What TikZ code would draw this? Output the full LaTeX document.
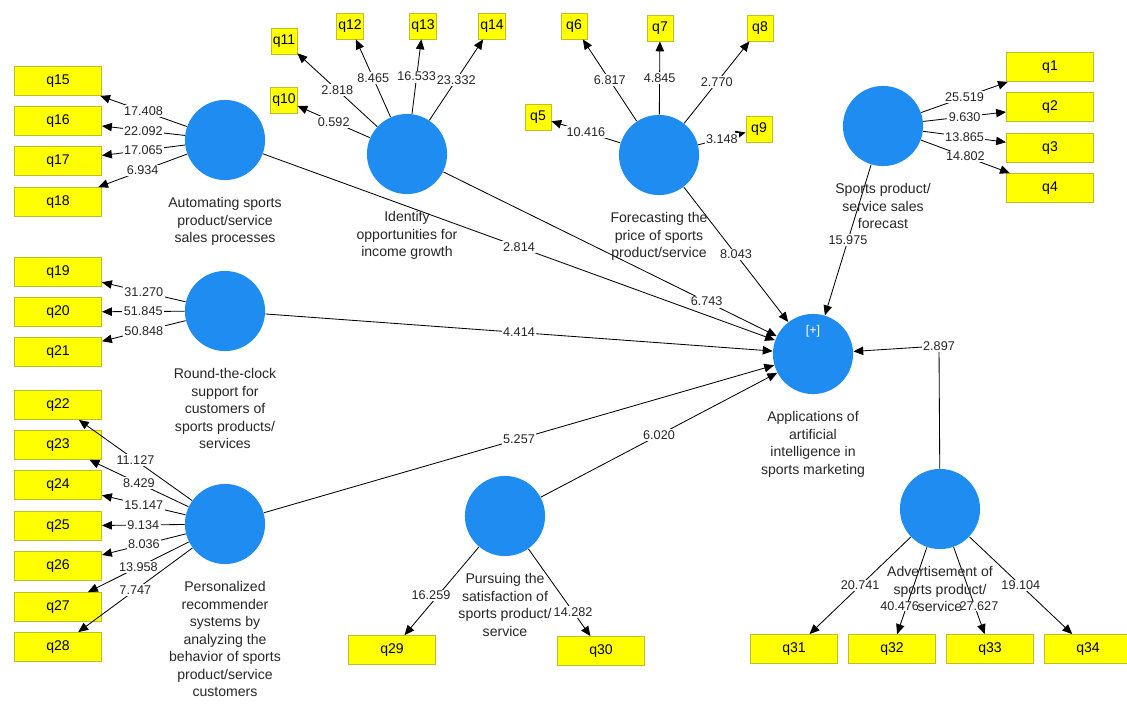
\documentclass[tikz,border=0pt]{standalone}
\usepackage{fontspec}
\setmainfont{Liberation Sans}
\usetikzlibrary{positioning,arrows.meta}
\definecolor{lvblue}{RGB}{30,140,240}
\definecolor{mvyellow}{RGB}{255,255,0}
\definecolor{mvedge}{RGB}{190,190,40}
\tikzset{
  lv/.style={circle,fill=lvblue,minimum size=57pt,inner sep=0pt},
  lvtext/.style={align=center,inner sep=0pt,text=black!85,font=\fontsize{10}{12.4}\selectfont},
  mv/.style={draw=mvedge,fill=mvyellow,minimum width=62pt,minimum height=20.6pt,inner sep=1pt,font=\fontsize{10}{12}\selectfont},
  mvs/.style={mv,minimum width=18.5pt,minimum height=18.5pt},
  val/.style={fill=white,inner sep=1pt,text=black!85,font=\fontsize{9}{10}\selectfont},
}
\begin{document}
\begin{tikzpicture}[x=0.025cm,y=-0.025cm,line width=0.6pt,>={Triangle[length=7pt,width=6pt]}]
\useasboundingbox (0,0) rectangle (1127,704);
%
\node[lv](A1) at (225,140) {};
\node[lv](A2) at (407,154) {};
\node[lv](A3) at (659,155) {};
\node[lv](A4) at (883,126) {};
\node[lv](A5) at (225,311) {};
\node[lv](A6) at (225,524) {};
\node[lv](A7) at (505,516) {};
\node[lv](AI) at (813,354) {};
\node[lv](A8) at (940,509) {};
\node[text=white,font=\fontsize{9}{10}\selectfont](plus) at (813,331) {[+]};
%
\node[mv](q15) at (58,81) {q15};
\node[mv](q16) at (58,121) {q16};
\node[mv](q17) at (58,161) {q17};
\node[mv](q18) at (58,202) {q18};
\draw[->](A1) -- node[val]{17.408} (q15);
\draw[->](A1) -- node[val]{22.092} (q16);
\draw[->](A1) -- node[val]{17.065} (q17);
\draw[->](A1) -- node[val]{6.934} (q18);
%
\node[mvs](q10) at (284,100) {q10};
\node[mvs](q11) at (284,41) {q11};
\node[mvs](q12) at (350,26) {q12};
\node[mvs](q13) at (423,26) {q13};
\node[mvs](q14) at (492,26) {q14};
\draw[->](A2) -- node[val]{0.592} (q10);
\draw[->](A2) -- node[val]{2.818} (q11);
\draw[->](A2) -- node[val]{8.465} (q12);
\draw[->](A2) -- node[val]{16.533} (q13);
\draw[->](A2) -- node[val]{23.332} (q14);
%
\node[mvs](q5) at (538,117) {q5};
\node[mvs](q6) at (574,26) {q6};
\node[mvs](q7) at (660,28) {q7};
\node[mvs](q8) at (760,28) {q8};
\node[mvs](q9) at (759,129) {q9};
\draw[->](A3) -- node[val]{10.416} (q5);
\draw[->](A3) -- node[val]{6.817} (q6);
\draw[->](A3) -- node[val]{4.845} (q7);
\draw[->](A3) -- node[val]{2.770} (q8);
\draw[->](A3) -- node[val]{3.148} (q9);
%
\node[mv](q1) at (1050,67) {q1};
\node[mv](q2) at (1050,107) {q2};
\node[mv](q3) at (1050,148) {q3};
\node[mv](q4) at (1050,188) {q4};
\draw[->](A4) -- node[val]{25.519} (q1);
\draw[->](A4) -- node[val]{9.630} (q2);
\draw[->](A4) -- node[val]{13.865} (q3);
\draw[->](A4) -- node[val]{14.802} (q4);
%
\node[mv](q19) at (58,272) {q19};
\node[mv](q20) at (58,312) {q20};
\node[mv](q21) at (58,352) {q21};
\draw[->](A5) -- node[val]{31.270} (q19);
\draw[->](A5) -- node[val]{51.845} (q20);
\draw[->](A5) -- node[val]{50.848} (q21);
%
\node[mv](q22) at (58,405) {q22};
\node[mv](q23) at (58,445) {q23};
\node[mv](q24) at (58,485) {q24};
\node[mv](q25) at (58,526) {q25};
\node[mv](q26) at (58,566) {q26};
\node[mv](q27) at (58,607) {q27};
\node[mv](q28) at (58,647) {q28};
\draw[->](A6) -- node[val]{11.127} (q22);
\draw[->](A6) -- node[val]{8.429} (q23);
\draw[->](A6) -- node[val]{15.147} (q24);
\draw[->](A6) -- node[val]{9.134} (q25);
\draw[->](A6) -- node[val]{8.036} (q26);
\draw[->](A6) -- node[val]{13.958} (q27);
\draw[->](A6) -- node[val]{7.747} (q28);
%
\node[mv](q29) at (392,650) {q29};
\node[mv](q30) at (601,651) {q30};
\draw[->](A7) -- node[val,pos=0.55,xshift=-5pt]{16.259} (q29);
\draw[->](A7) -- node[val,pos=0.72]{14.282} (q30);
%
\node[mv](q31) at (794,649) {q31};
\node[mv](q32) at (892,649) {q32};
\node[mv](q33) at (990,649) {q33};
\node[mv](q34) at (1088,649) {q34};
\draw[->](A8) -- node[val]{20.741} (q31);
\draw[->](A8) -- node[val,pos=0.68,xshift=-5pt,inner sep=0pt]{40.476} (q32);
\draw[->](A8) -- node[val,pos=0.68,xshift=3pt,inner sep=0pt]{27.627} (q33);
\draw[->](A8) -- node[val]{19.104} (q34);
%
\coordinate(c8) at (939,346);
\draw[->](A1) -- node[val]{2.814} (AI);
\draw[->](A2) -- node[val,pos=0.79]{6.743} (AI);
\draw[->](A3) -- node[val]{8.043} (AI);
\draw[->](A4) -- node[val]{15.975} (AI);
\draw[->](A5) -- node[val]{4.414} (AI);
\draw[->](A6) -- node[val]{5.257} (AI);
\draw[->](A7) -- node[val]{6.020} (AI);
\draw[->](A8) -- (c8) node[val]{2.897} -- (AI);
%
\node[lvtext,below=12pt of A1](A1t) {Automating sports\\product/service\\sales processes};
\node[lvtext,below=12pt of A2](A2t) {Identify\\opportunities for\\income growth};
\node[lvtext,below=12pt of A3](A3t) {Forecasting the\\price of sports\\product/service};
\node[lvtext,below=12pt of A4](A4t) {Sports product/\\service sales\\forecast};
\node[lvtext,below=12pt of A5](A5t) {Round-the-clock\\support for\\customers of\\sports products/\\services};
\node[lvtext,below=12pt of A6](A6t) {Personalized\\recommender\\systems by\\analyzing the\\behavior of sports\\product/service\\customers};
\node[lvtext,below=12pt of A7](A7t) {Pursuing the\\satisfaction of\\sports product/\\service};
\node[lvtext,below=12pt of AI](AIt) {Applications of\\artificial\\intelligence in\\sports marketing};
\node[lvtext,below=12pt of A8](A8t) {Advertisement of\\sports product/\\service};
\end{tikzpicture}
\end{document}
